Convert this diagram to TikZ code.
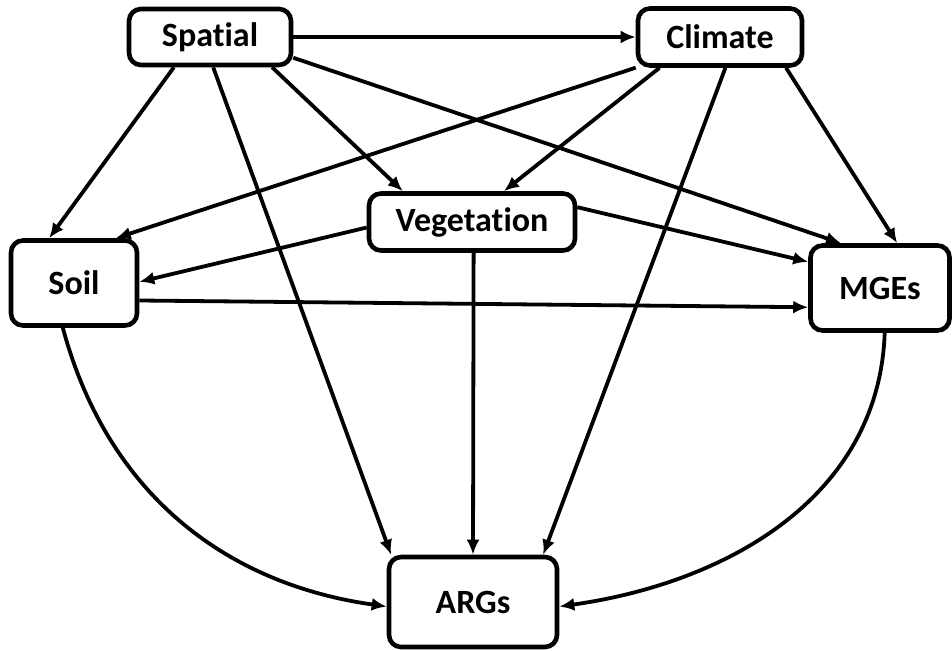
\documentclass[tikz,border=0pt]{standalone}
\usepackage{fontspec}
\setmainfont{Carlito}[Ligatures=NoCommon]
\usetikzlibrary{arrows.meta}
\tikzset{
	factor/.style={draw,fill=white,rounded corners=6pt,line width=2.3pt,inner sep=0pt,
		font=\fontsize{17}{20}\selectfont\bfseries},
	link/.style={line width=1.9pt,-{Latex[length=7.5pt,width=6.5pt]}}
}
\begin{document}
\begin{tikzpicture}[x=0.5pt,y=-0.5pt]
		\useasboundingbox (0,0) rectangle (952,651);
		%put the factors in place
		\node[factor,minimum width=81pt,minimum height=28pt] (spatial) at (210,37) {Spatial};
		\node[factor,minimum width=82pt,minimum height=28.5pt] (climate) at (720,37) {Climate};
		\node[factor,minimum width=103pt,minimum height=28.5pt] (veg) at (472,222) {Vegetation};
		\node[factor,minimum width=63pt,minimum height=42.5pt] (soil) at (74,283) {Soil};
		\node[factor,minimum width=69.5pt,minimum height=42.5pt] (mges) at (880,288) {MGEs};
		\node[factor,minimum width=84pt,minimum height=45pt] (args) at (473,602) {ARGs};
		%links from spatial
		\draw[link] (spatial) -- (climate);
		\draw[link] (spatial.220) -- (soil.119);
		\draw[link] (spatial.276) -- (args.150);
		\draw[link] (spatial.334) -- (veg.156);
		\draw[link] (spatial.346) -- (mges.131);
		%links from climate
		\draw[link] (climate.200) -- (soil.47);
		\draw[link] (climate.207) -- (veg.44);
		\draw[link] (climate.280) -- (args.34);
		\draw[link] (climate.335) -- (mges.69);
		%links from vegetation
		\draw[link] (veg.183) -- (soil.1);
		\draw[link] (veg.8) -- (mges.160);
		\draw[link] (veg.273) -- (args.90);
		%links from soil and mges
		\draw[link] (soil.345) -- (mges.195);
		\draw[link] (soil.256) to[out=-75,in=172] (args.183);
		\draw[link] (mges.276) to[out=-92,in=8] (args.357);
\end{tikzpicture}
\end{document}
